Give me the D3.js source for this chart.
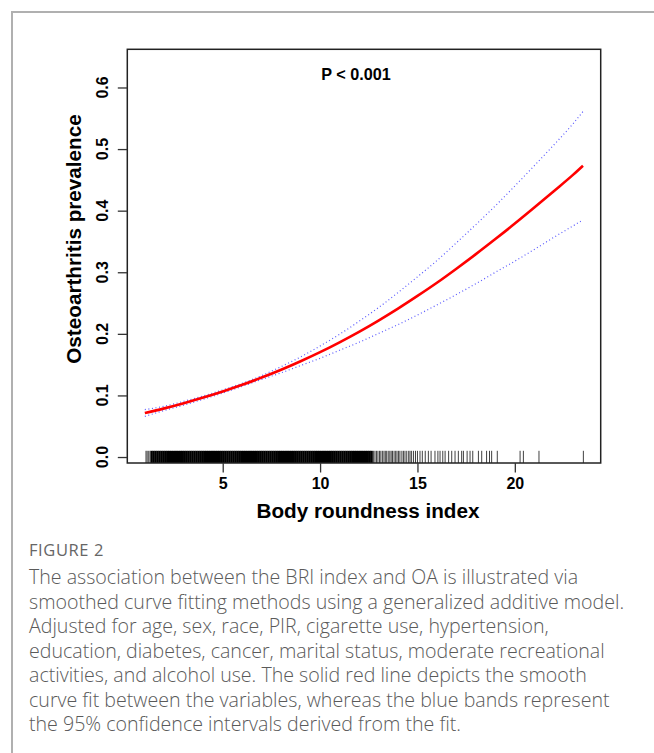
<!DOCTYPE html>
<html><head><meta charset="utf-8">
<script src="https://cdn.jsdelivr.net/npm/d3@7"></script>
<style>body{margin:0;background:#fff}svg{display:block}</style>
</head><body>
<svg id="c" width="654" height="753"></svg>
<script>
const bri   = [1, 2, 3, 4, 5, 6, 7, 8, 9, 10, 11, 12, 13, 14, 15, 16, 17, 18, 19, 20, 21, 22, 23, 23.5];
const fit   = [0.0715,0.079,0.0874,0.0965,0.1064,0.1172,0.129,0.1417,0.1555,0.1703,0.1863,0.2033,0.2216,0.241,0.2616,0.283,0.3058,0.3294,0.3539,0.379,0.405,0.4316,0.4585,0.473];
const upper = [0.077,0.0825,0.0905,0.0992,0.109,0.1198,0.1322,0.1468,0.1625,0.1803,0.1993,0.2203,0.2426,0.2670,0.2926,0.319,0.3478,0.3774,0.4079,0.440,0.473,0.5066,0.5415,0.561];
const lower = [0.066,0.0755,0.0843,0.0938,0.1039,0.1147,0.126,0.1367,0.1485,0.1603,0.1733,0.1863,0.2006,0.215,0.2306,0.247,0.2638,0.2814,0.2999,0.318,0.337,0.3566,0.3755,0.385];
const yTicks = [0.0, 0.1, 0.2, 0.3, 0.4, 0.5, 0.6];
const xTicks = [5, 10, 15, 20];
const rugDense = [1.35,1.45,1.55,1.65,1.75,1.85,1.95,2.05,2.15,2.25,2.35,2.45,2.55,2.65,2.75,2.85,2.95,3.05,3.15,3.25,3.35,3.45,3.55,3.65,3.75,3.85,3.95,4.05,4.15,4.25,4.35,4.45,4.55,4.65,4.75,4.85,4.95,5.05,5.15,5.25,5.35,5.45,5.55,5.65,5.75,5.85,5.95,6.05,6.15,6.25,6.35,6.45,6.55,6.65,6.75,6.85,6.95,7.05,7.15,7.25,7.35,7.45,7.55,7.65,7.75,7.85,7.95,8.05,8.15,8.25,8.35,8.45,8.55,8.65,8.75,8.85,8.95,9.05,9.15,9.25,9.35,9.45,9.55,9.65,9.75,9.85,9.95,10.05,10.15,10.25,10.35,10.45,10.55,10.65,10.75,10.85,10.95,11.05,11.15,11.25,11.35,11.45,11.55,11.65,11.75,11.85,11.95,12.05,12.15,12.25,12.35,12.45,12.55,12.65];
const rugSparse = [1.06,1.12,1.2,1.27,12.75,12.82,12.9,12.97,13.05,13.12,13.2,13.28,13.35,13.42,13.5,13.58,13.65,13.72,13.8,13.88,13.95,14.03,14.1,14.2,14.28,14.36,14.45,14.55,14.62,14.7,14.8,14.9,15.0,15.13,15.25,15.4,15.56,15.7,15.9,16.05,16.16,16.3,16.42,16.6,16.76,16.93,17.1,17.27,17.36,17.55,17.7,17.84,18.13,18.3,18.55,18.7,18.81,19.1,20.27,20.44,21.24,23.52];

const FONT = 'Liberation Sans, Arial, sans-serif';
const svg = d3.select('#c');
svg.append('path').attr('d','M12,753 L12,12 L654,12').attr('fill','none').attr('stroke','#b0b0b0').attr('stroke-width',2);

const x = d3.scaleLinear().domain([0.1, 24.41]).range([127.3, 600.7]);
const y = d3.scaleLinear().domain([-0.0097, 0.662]).range([463, 49.3]);

const rugTop = 450.8;
svg.append('g').selectAll('line').data(rugDense).join('line')
  .attr('x1',d=>x(d)).attr('x2',d=>x(d)).attr('y1',463).attr('y2',rugTop)
  .attr('stroke','#000').attr('stroke-width',2.3);
svg.append('g').selectAll('line').data(rugSparse).join('line')
  .attr('x1',d=>x(d)).attr('x2',d=>x(d)).attr('y1',463).attr('y2',rugTop)
  .attr('stroke','#000').attr('stroke-width',1).attr('stroke-opacity',0.75);

const pts = (arr)=>bri.map((b,i)=>[b,arr[i]]);
const line = d3.line().x(d=>x(d[0])).y(d=>y(d[1])).curve(d3.curveMonotoneX);
[upper, lower].forEach(a=>{
  svg.append('path').attr('d',line(pts(a))).attr('fill','none')
    .attr('stroke','#5a5aff').attr('stroke-width',1.2).attr('stroke-dasharray','1,2.6');
});
svg.append('path').attr('d',line(pts(fit))).attr('fill','none')
  .attr('stroke','#ff0000').attr('stroke-width',2.6);

svg.append('rect').attr('x',127.3).attr('y',49.3).attr('width',600.7-127.3).attr('height',463-49.3)
  .attr('fill','none').attr('stroke','#222').attr('stroke-width',1.5);

const gy = svg.append('g').attr('transform','translate(127.3,0)');
gy.call(d3.axisLeft(y).tickValues(yTicks).tickSize(9.5).tickSizeOuter(0).tickFormat(''));
gy.select('.domain').remove();
gy.selectAll('line').attr('stroke','#333').attr('stroke-width',1.3);
svg.append('g').selectAll('text').data(yTicks).join('text')
  .attr('transform',d=>`translate(107.5,${y(d)}) rotate(-90)`)
  .attr('text-anchor','middle').attr('font-family',FONT)
  .attr('font-weight','bold').attr('font-size',16).text(d=>d3.format('.1f')(d));

const gx = svg.append('g').attr('transform','translate(0,463)');
gx.call(d3.axisBottom(x).tickValues(xTicks).tickSize(9.5).tickPadding(5).tickSizeOuter(0));
gx.select('.domain').remove();
gx.selectAll('line').attr('stroke','#333').attr('stroke-width',1.3);
gx.selectAll('text').attr('font-family',FONT).attr('font-weight','bold').attr('font-size',16).attr('fill','#000');

svg.append('text').attr('x',368).attr('y',518).attr('text-anchor','middle')
  .attr('font-family',FONT).attr('font-weight','bold').attr('font-size',20.7).text('Body roundness index');
svg.append('text').attr('transform','translate(81,239) rotate(-90)').attr('text-anchor','middle')
  .attr('font-family',FONT).attr('font-weight','bold').attr('font-size',20.7).text('Osteoarthritis prevalence');
svg.append('text').attr('x',356).attr('y',80).attr('text-anchor','middle')
  .attr('font-family',FONT).attr('font-weight','bold').attr('font-size',16.2).text('P < 0.001');

const cap = [
 'The association between the BRI index and OA is illustrated via',
 'smoothed curve fitting methods using a generalized additive model.',
 'Adjusted for age, sex, race, PIR, cigarette use, hypertension,',
 'education, diabetes, cancer, marital status, moderate recreational',
 'activities, and alcohol use. The solid red line depicts the smooth',
 'curve fit between the variables, whereas the blue bands represent',
 'the 95% confidence intervals derived from the fit.'
];
svg.append('text').attr('x',29).attr('y',556).attr('font-family','Open Sans, sans-serif')
  .attr('font-size',16.5).attr('letter-spacing',0.6).attr('fill','#666').text('FIGURE 2');
svg.append('g').selectAll('text').data(cap).join('text')
  .attr('x',29).attr('y',(d,i)=>584+i*24.5).attr('font-family','Open Sans, sans-serif').attr('font-weight',300)
  .attr('font-size',19.6).attr('fill','#5a5a5a').text(d=>d);
</script>
</body></html>
